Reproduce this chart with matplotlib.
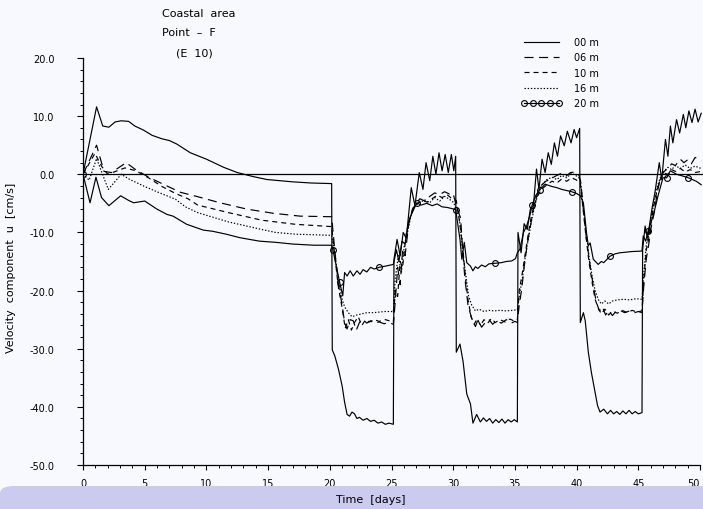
import numpy as np
import matplotlib
matplotlib.use('Agg')
import matplotlib.pyplot as plt
from matplotlib.patches import FancyBboxPatch
from matplotlib.lines import Line2D
from matplotlib.ticker import MultipleLocator, FormatStrFormatter

plt.rcParams['font.family'] = ['DejaVu Sans']
plt.rcParams['lines.scale_dashes'] = False
plt.rcParams['axes.unicode_minus'] = False

# ---------------- data (time in days, velocity u in cm/s) ----------------
t_00 = [0, 1.1, 1.6, 2.1, 2.6, 3.1, 3.7, 4.2, 4.9, 5.6, 6.4, 7.0, 7.6, 8.7, 10.0, 11.4, 12.5, 13.8, 14.9, 17.0, 18.5, 20.15,
        20.2, 20.4, 20.7, 21.0, 21.2, 21.4, 21.6, 21.8, 22.0, 22.2, 22.4, 22.7, 23.0, 23.3, 23.6, 23.9, 24.2, 24.5, 24.8, 25.15,
        25.2, 25.45, 25.7, 25.95, 26.2, 26.6, 26.9, 27.25, 27.55, 27.8, 28.1, 28.35, 28.6, 28.85, 29.1, 29.35, 29.6, 29.85, 30.05, 30.2,
        30.25, 30.55, 30.8, 31.1, 31.4, 31.6, 31.9, 32.2, 32.45, 32.7, 32.95, 33.2, 33.45, 33.7, 33.95, 34.2, 34.45, 34.7, 34.95, 35.2,
        35.25, 35.5, 35.75, 36.0, 36.25, 36.5, 36.75, 36.95, 37.2, 37.45, 37.7, 37.95, 38.2, 38.45, 38.7, 39.0, 39.25, 39.55, 39.8, 40.0, 40.25,
        40.3, 40.55, 40.7, 40.95, 41.2, 41.5, 41.7, 41.9, 42.2, 42.5, 42.75, 43.0, 43.25, 43.5, 43.75, 44.0, 44.25, 44.5, 44.75, 45.0, 45.3,
        45.35, 45.55, 45.75, 46.1, 46.35, 46.7, 46.9, 47.2, 47.4, 47.6, 47.8, 48.1, 48.35, 48.65, 48.85, 49.1, 49.35, 49.6, 49.85, 50.1]
u_00 = [0, 11.6, 8.3, 8.1, 9.0, 9.2, 9.1, 8.3, 7.6, 6.7, 6.1, 5.8, 5.2, 3.7, 2.6, 1.2, 0.3, -0.4, -0.9, -1.3, -1.5, -1.6,
        -30.2, -31.2, -33.5, -36.4, -39.2, -41.3, -41.6, -40.9, -41.2, -42.0, -41.8, -42.3, -42.0, -42.5, -42.3, -42.8, -42.6, -43.0, -42.8, -43.0,
        -14.6, -11.2, -14.0, -10.0, -11.0, -2.3, -5.4, 0.3, -2.6, 2.0, -1.1, 3.1, 0.0, 3.7, 0.6, 3.4, 0.3, 3.4, 0.6, 3.1,
        -30.6, -29.2, -32.2, -37.8, -39.5, -42.8, -41.3, -42.6, -41.9, -42.5, -42.0, -42.8, -42.2, -42.7, -42.1, -42.8, -42.2, -42.6, -42.2, -42.6,
        -10.0, -13.5, -8.5, -9.5, -6.0, -5.4, 0.9, -2.6, 2.6, 0.3, 3.7, 1.7, 5.4, 3.1, 6.6, 4.9, 7.4, 5.4, 7.7, 6.3, 7.9,
        -25.5, -23.8, -25.2, -30.6, -34.1, -37.5, -39.8, -40.9, -40.4, -41.2, -40.6, -41.2, -40.8, -41.3, -40.7, -41.2, -40.6, -41.2, -40.8, -41.2, -41.0,
        -13.0, -8.9, -11.0, -6.0, -3.1, 2.0, -0.9, 6.0, 3.1, 8.3, 5.4, 9.4, 7.1, 10.3, 8.0, 10.9, 8.9, 11.2, 9.0, 10.5]

t_06 = [0, 1.1, 1.7, 2.3, 3.5, 4.2, 5.4, 6.5, 7.9, 9.2, 11.1, 13.3, 15.4, 17.6, 20.15,
        20.4, 20.7, 21.0, 21.2, 21.4, 21.65, 21.9, 22.15, 22.4, 22.7, 23.0, 23.3, 23.6, 24.0, 24.4, 24.8, 25.15,
        25.3, 25.5, 25.7, 25.9, 26.1, 26.4, 26.7, 27.0, 27.3, 27.7, 28.1, 28.5, 28.9, 29.3, 29.7, 30.0, 30.25,
        30.6, 30.8, 30.95, 31.2, 31.5, 31.8, 32.0, 32.3, 32.6, 32.9, 33.2, 33.5, 33.9, 34.3, 34.7, 35.0, 35.2,
        35.35, 35.55, 35.75, 36.0, 36.25, 36.5, 36.8, 37.1, 37.5, 37.9, 38.3, 38.7, 39.1, 39.5, 39.9, 40.2, 40.35,
        40.5, 40.8, 41.1, 41.35, 41.6, 41.85, 42.1, 42.35, 42.6, 42.9, 43.2, 43.5, 43.9, 44.3, 44.7, 45.0, 45.3,
        45.45, 45.65, 45.85, 46.05, 46.3, 46.55, 46.8, 47.1, 47.4, 47.7, 48.0, 48.4, 48.7, 49.0, 49.3, 49.6, 50.1]
u_06 = [0, 5.0, 0.5, 0.3, 2.0, 0.9, -0.6, -1.7, -3.1, -3.8, -4.9, -6.0, -6.7, -7.2, -7.3,
        -13.0, -19.0, -22.5, -25.5, -26.6, -25.0, -25.2, -26.8, -25.5, -25.0, -25.6, -25.2, -25.6, -25.4, -25.7, -25.5, -25.8,
        -22.0, -16.0, -19.0, -13.0, -14.0, -8.5, -6.0, -5.0, -4.2, -4.6, -3.8, -3.2, -3.5, -3.0, -3.4, -3.3, -5.5,
        -7.5, -14.0, -18.0, -22.5, -24.8, -26.2, -25.0, -26.3, -25.5, -25.0, -25.8, -25.2, -25.6, -25.0, -25.6, -25.3, -25.5,
        -22.5, -19.8, -16.0, -12.0, -9.0, -6.0, -3.5, -2.0, -1.2, -0.8, -0.3, 0.1, -0.4, 0.3, 0.4, -0.2, -1.5,
        -5.0, -11.2, -15.8, -19.2, -22.0, -23.5, -22.8, -24.2, -23.4, -24.3, -23.6, -23.4, -23.8, -23.5, -23.8, -23.6, -23.8,
        -19.0, -14.5, -12.0, -9.0, -6.5, -3.0, -0.5, 0.5, 1.0, 1.8, 1.5, 2.6, 2.0, 2.5, 1.8, 2.9, 2.3]

t_10 = [0, 0.97, 1.5, 2.0, 2.9, 3.4, 4.3, 5.3, 6.4, 7.5, 8.5, 9.3, 11.8, 14.5, 17.2, 20.15,
        20.4, 20.7, 21.0, 21.25, 21.5, 21.75, 22.0, 22.3, 22.6, 22.9, 23.2, 23.6, 24.0, 24.5, 25.15,
        25.3, 25.5, 25.7, 25.9, 26.2, 26.5, 26.8, 27.1, 27.5, 27.9, 28.3, 28.7, 29.1, 29.5, 29.9, 30.25,
        30.5, 30.75, 31.0, 31.2, 31.45, 31.7, 31.95, 32.2, 32.5, 32.8, 33.1, 33.4, 33.8, 34.2, 34.6, 35.0, 35.2,
        35.35, 35.6, 35.85, 36.1, 36.35, 36.6, 36.9, 37.2, 37.6, 38.0, 38.4, 38.8, 39.2, 39.6, 40.0, 40.3,
        40.5, 40.75, 41.0, 41.25, 41.5, 41.75, 42.0, 42.3, 42.6, 42.9, 43.3, 43.7, 44.1, 44.5, 44.9, 45.3,
        45.45, 45.65, 45.85, 46.05, 46.3, 46.55, 46.8, 47.1, 47.4, 47.7, 48.0, 48.4, 48.8, 49.2, 49.6, 50.1]
u_10 = [0, 3.6, 1.4, 0.0, 0.7, 1.1, 0.6, -0.6, -2.1, -3.3, -4.2, -5.3, -6.6, -7.9, -8.6, -9.0,
        -14.0, -19.5, -23.0, -26.5, -25.0, -26.8, -25.5, -24.5, -26.0, -25.0, -25.4, -25.0, -25.3, -25.0, -25.4,
        -20.0, -21.0, -15.0, -16.0, -10.0, -7.5, -5.5, -5.0, -4.5, -4.8, -4.2, -3.6, -4.0, -3.5, -4.2, -4.5,
        -8.0, -12.0, -18.0, -21.5, -24.5, -25.8, -24.8, -26.0, -25.0, -25.6, -24.8, -25.5, -25.0, -25.4, -24.9, -25.3, -25.0,
        -20.0, -17.0, -13.5, -10.0, -7.0, -5.0, -3.5, -2.5, -1.8, -1.2, -1.5, -0.8, -1.2, -0.6, -1.0, -1.5,
        -5.5, -10.5, -15.0, -18.5, -21.5, -23.0, -24.0, -23.2, -24.2, -23.5, -23.9, -23.4, -23.8, -23.4, -23.7, -23.5,
        -18.0, -13.0, -11.0, -8.0, -5.0, -2.5, -0.8, 0.2, 0.0, 0.8, 0.5, 1.0, 0.4, 0.8, 0.3, 0.5]

t_16 = [0, 0.5, 1.1, 2.05, 3.1, 3.8, 5.0, 6.1, 7.5, 8.3, 9.3, 11.8, 14.5, 15.6, 17.2, 20.15,
        20.4, 20.7, 21.0, 21.2, 21.5, 21.8, 22.2, 22.6, 23.0, 23.5, 24.0, 24.5, 25.15,
        25.3, 25.55, 25.8, 26.05, 26.3, 26.6, 26.9, 27.3, 27.7, 28.1, 28.5, 28.9, 29.3, 29.7, 30.0, 30.25,
        30.5, 30.75, 31.0, 31.25, 31.5, 31.8, 32.1, 32.5, 32.9, 33.3, 33.8, 34.3, 34.8, 35.2,
        35.35, 35.6, 35.85, 36.1, 36.35, 36.6, 36.9, 37.2, 37.6, 38.0, 38.4, 38.8, 39.2, 39.6, 40.0, 40.3,
        40.5, 40.75, 41.0, 41.25, 41.5, 41.75, 42.0, 42.3, 42.6, 42.9, 43.3, 43.8, 44.3, 44.8, 45.3,
        45.45, 45.65, 45.85, 46.05, 46.3, 46.55, 46.8, 47.1, 47.4, 47.7, 48.0, 48.4, 48.8, 49.2, 49.6, 50.1]
u_16 = [0, -1.0, 2.7, -2.6, 0.0, -0.9, -2.1, -3.1, -4.3, -5.6, -6.6, -8.2, -9.5, -10.0, -10.3, -10.5,
        -13.5, -18.5, -21.5, -22.8, -23.8, -24.5, -24.2, -24.0, -23.8, -23.8, -23.7, -23.6, -23.6,
        -18.0, -14.0, -17.0, -12.0, -10.0, -6.8, -5.5, -4.8, -4.4, -4.9, -4.0, -4.6, -3.8, -4.3, -4.8, -5.8,
        -7.5, -13.0, -17.0, -21.0, -22.5, -23.5, -23.2, -23.6, -23.4, -23.5, -23.4, -23.5, -23.4, -23.3,
        -21.0, -18.0, -14.0, -11.0, -8.0, -5.5, -3.2, -1.8, -0.9, -0.5, -0.9, -0.2, -0.6, 0.2, -0.3, -0.8,
        -5.0, -9.5, -14.0, -17.5, -20.0, -21.5, -22.3, -21.8, -22.3, -21.8, -21.6, -21.5, -21.6, -21.4, -21.5,
        -17.0, -12.0, -10.5, -7.5, -4.5, -2.0, -0.5, 0.6, 1.2, 0.8, 1.5, 1.0, 1.6, 1.0, 1.4, 1.0]

t_20 = [0, 0.57, 1.05, 1.5, 2.1, 3.05, 3.7, 4.1, 5.0, 6.0, 6.8, 7.3, 8.4, 9.75, 10.5, 11.6, 12.7, 14.3, 15.6, 17.0, 18.7, 20.15,
        20.25, 20.5, 20.8, 21.05, 21.2, 21.4, 21.65, 21.9, 22.2, 22.45, 22.7, 23.0, 23.3, 23.6, 24.0, 24.5, 25.15,
        25.4, 25.6, 25.85, 26.1, 26.4, 26.7, 27.05, 27.4, 27.85, 28.3, 28.7, 29.1, 29.5, 29.9, 30.2,
        30.55, 30.7, 30.9, 31.1, 31.4, 31.6, 31.8, 32.0, 32.3, 32.6, 32.9, 33.4, 33.9, 34.3, 34.75, 35.05, 35.2,
        35.4, 35.7, 35.95, 36.2, 36.4, 36.7, 37.0, 37.45, 38.0, 38.4, 38.8, 39.2, 39.6, 40.0, 40.3,
        40.55, 40.8, 40.95, 41.1, 41.35, 41.75, 42.0, 42.2, 42.7, 43.1, 43.5, 44.0, 44.4, 45.3,
        45.4, 45.6, 45.8, 46.2, 46.6, 47.0, 47.3, 47.6, 48.1, 48.6, 49.05, 49.7, 50.1]
u_20 = [0, -4.9, -0.5, -4.0, -5.4, -3.7, -4.5, -4.9, -4.6, -6.0, -6.9, -7.2, -8.6, -9.6, -9.8, -10.3, -10.9, -11.5, -11.7, -12.0, -12.2, -12.2,
        -13.0, -15.5, -18.6, -20.9, -16.9, -17.5, -16.6, -17.5, -16.6, -17.2, -16.4, -16.8, -16.0, -16.3, -16.0, -15.8, -15.5,
        -13.0, -15.0, -11.5, -12.0, -8.0, -6.5, -4.9, -5.3, -5.0, -5.4, -5.1, -5.6, -5.7, -5.9, -6.1,
        -11.2, -14.6, -11.7, -15.2, -15.8, -16.6, -15.9, -16.2, -15.6, -15.9, -15.4, -15.3, -15.2, -15.0, -14.9, -14.5, -13.5,
        -12.9, -10.0, -8.9, -7.2, -5.3, -3.6, -2.7, -1.7, -2.1, -2.3, -2.6, -2.8, -3.0, -3.3, -3.7,
        -4.9, -10.0, -12.3, -11.8, -14.6, -15.5, -15.0, -15.2, -14.1, -13.7, -13.5, -13.4, -13.3, -13.2,
        -10.6, -11.5, -9.7, -7.2, -3.7, -0.6, -0.6, 0.6, 0.0, -0.3, -0.6, -1.2, -1.8]
marker_t_20 = [0, 20.25, 20.8, 24.0, 27.05, 30.2, 33.4, 36.4, 37.0, 39.6, 42.7, 45.8, 47.3, 49.05]

labels = ['00 m', '06 m', '10 m', '16 m', '20 m']
y_ticks = [-50, -40, -30, -20, -10, 0, 10, 20]
x_ticks = [0, 5, 10, 15, 20, 25, 30, 35, 40, 45, 50]

# ---------------- figure ----------------
W, H = 703, 510
fig = plt.figure(figsize=(W / 100, H / 100), dpi=100, facecolor='#f8f8ff')

# bottom band
band = FancyBboxPatch((0.0, -0.05), 1.05, 0.05 + 23 / H,
                      boxstyle='round,pad=0,rounding_size=0.02', mutation_aspect=H / W,
                      transform=fig.transFigure, facecolor='#cbcbef', edgecolor='none', zorder=0)
fig.patches.append(band)

ax = fig.add_axes([83 / W, 44 / H, 620 / W, 407 / H])
ax.set_facecolor('none')
ax.set_xlim(0, 620 / 12.34)
ax.set_ylim(-50, 20)

lw = 0.85
ax.axhline(0, color='black', lw=0.9, zorder=1)
ax.plot(t_00, u_00, color='black', lw=lw, ls='-')
ax.plot(t_06, u_06, color='black', lw=lw, ls=(0, (6.5, 4.0)))
ax.plot(t_10, u_10, color='black', lw=lw, ls=(0, (3.6, 2.9)))
ax.plot(t_16, u_16, color='black', lw=lw, ls=(0, (1.0, 1.3)))
ax.plot(t_20, u_20, color='black', lw=lw, ls='-')
t20a = np.array(t_20)
u20a = np.array(u_20)
idx = np.isin(t20a, marker_t_20)
ax.plot(t20a[idx], u20a[idx], ls='none', marker='o', ms=4.2, mfc='none', mec='black', mew=0.8)

# axes styling
for s in ['top', 'right']:
    ax.spines[s].set_visible(False)
ax.spines['left'].set_bounds(-50, 20)
ax.spines['bottom'].set_bounds(0, 50)
for s in ['left', 'bottom']:
    ax.spines[s].set_linewidth(0.9)

ax.set_yticks(y_ticks)
ax.yaxis.set_minor_locator(MultipleLocator(2))
ax.yaxis.set_major_formatter(FormatStrFormatter('%.1f'))
ax.set_xticks(x_ticks)
ax.set_xticklabels([str(v) for v in x_ticks])
ax.xaxis.set_minor_locator(MultipleLocator(1))
ax.tick_params(axis='y', which='major', direction='out', length=4.5, width=0.8, pad=16, labelsize=7)
ax.tick_params(axis='y', which='minor', direction='out', length=2.5, width=0.7)
ax.tick_params(axis='x', which='major', direction='out', length=3.5, width=0.8, pad=6, labelsize=7)
ax.tick_params(axis='x', which='minor', direction='out', length=2.5, width=0.7)
# keep the last tick label inside the figure
ax.get_xticklabels()[-1].set_horizontalalignment('right')

# legend (proxies)
handles = [Line2D([], [], color='black', lw=lw, ls='-'),
           Line2D([], [], color='black', lw=lw, ls=(0, (6.5, 4.0))),
           Line2D([], [], color='black', lw=lw, ls=(0, (3.6, 2.9))),
           Line2D([], [], color='black', lw=lw, ls=(0, (1.0, 1.3))),
           Line2D([], [], color='black', lw=lw, ls='-', marker='o', ms=4.2, mfc='none', mew=0.8)]
fig.legend(handles, labels, loc='upper left', bbox_to_anchor=(521 / W, 1 - 38 / H),
           bbox_transform=fig.transFigure, frameon=False, fontsize=7, numpoints=5,
           handlelength=4.2, handletextpad=1.3, labelspacing=0.55, borderpad=0, borderaxespad=0)

# texts
fig.text(162 / W, 1 - 14 / H, 'Coastal  area', fontsize=8, ha='left', va='center')
fig.text(162 / W, 1 - 33 / H, 'Point  \u2013  F', fontsize=8, ha='left', va='center')
fig.text(176 / W, 1 - 53 / H, '(E  10)', fontsize=8, ha='left', va='center')
fig.text(11 / W, 1 - 268 / H, 'Velocity  component  u  [cm/s]', fontsize=8, rotation=90,
         ha='center', va='center')
fig.text(371 / W, 1 - 500 / H, 'Time  [days]', fontsize=8, ha='center', va='center')

fig.savefig('out.png', dpi=100, facecolor=fig.get_facecolor())
